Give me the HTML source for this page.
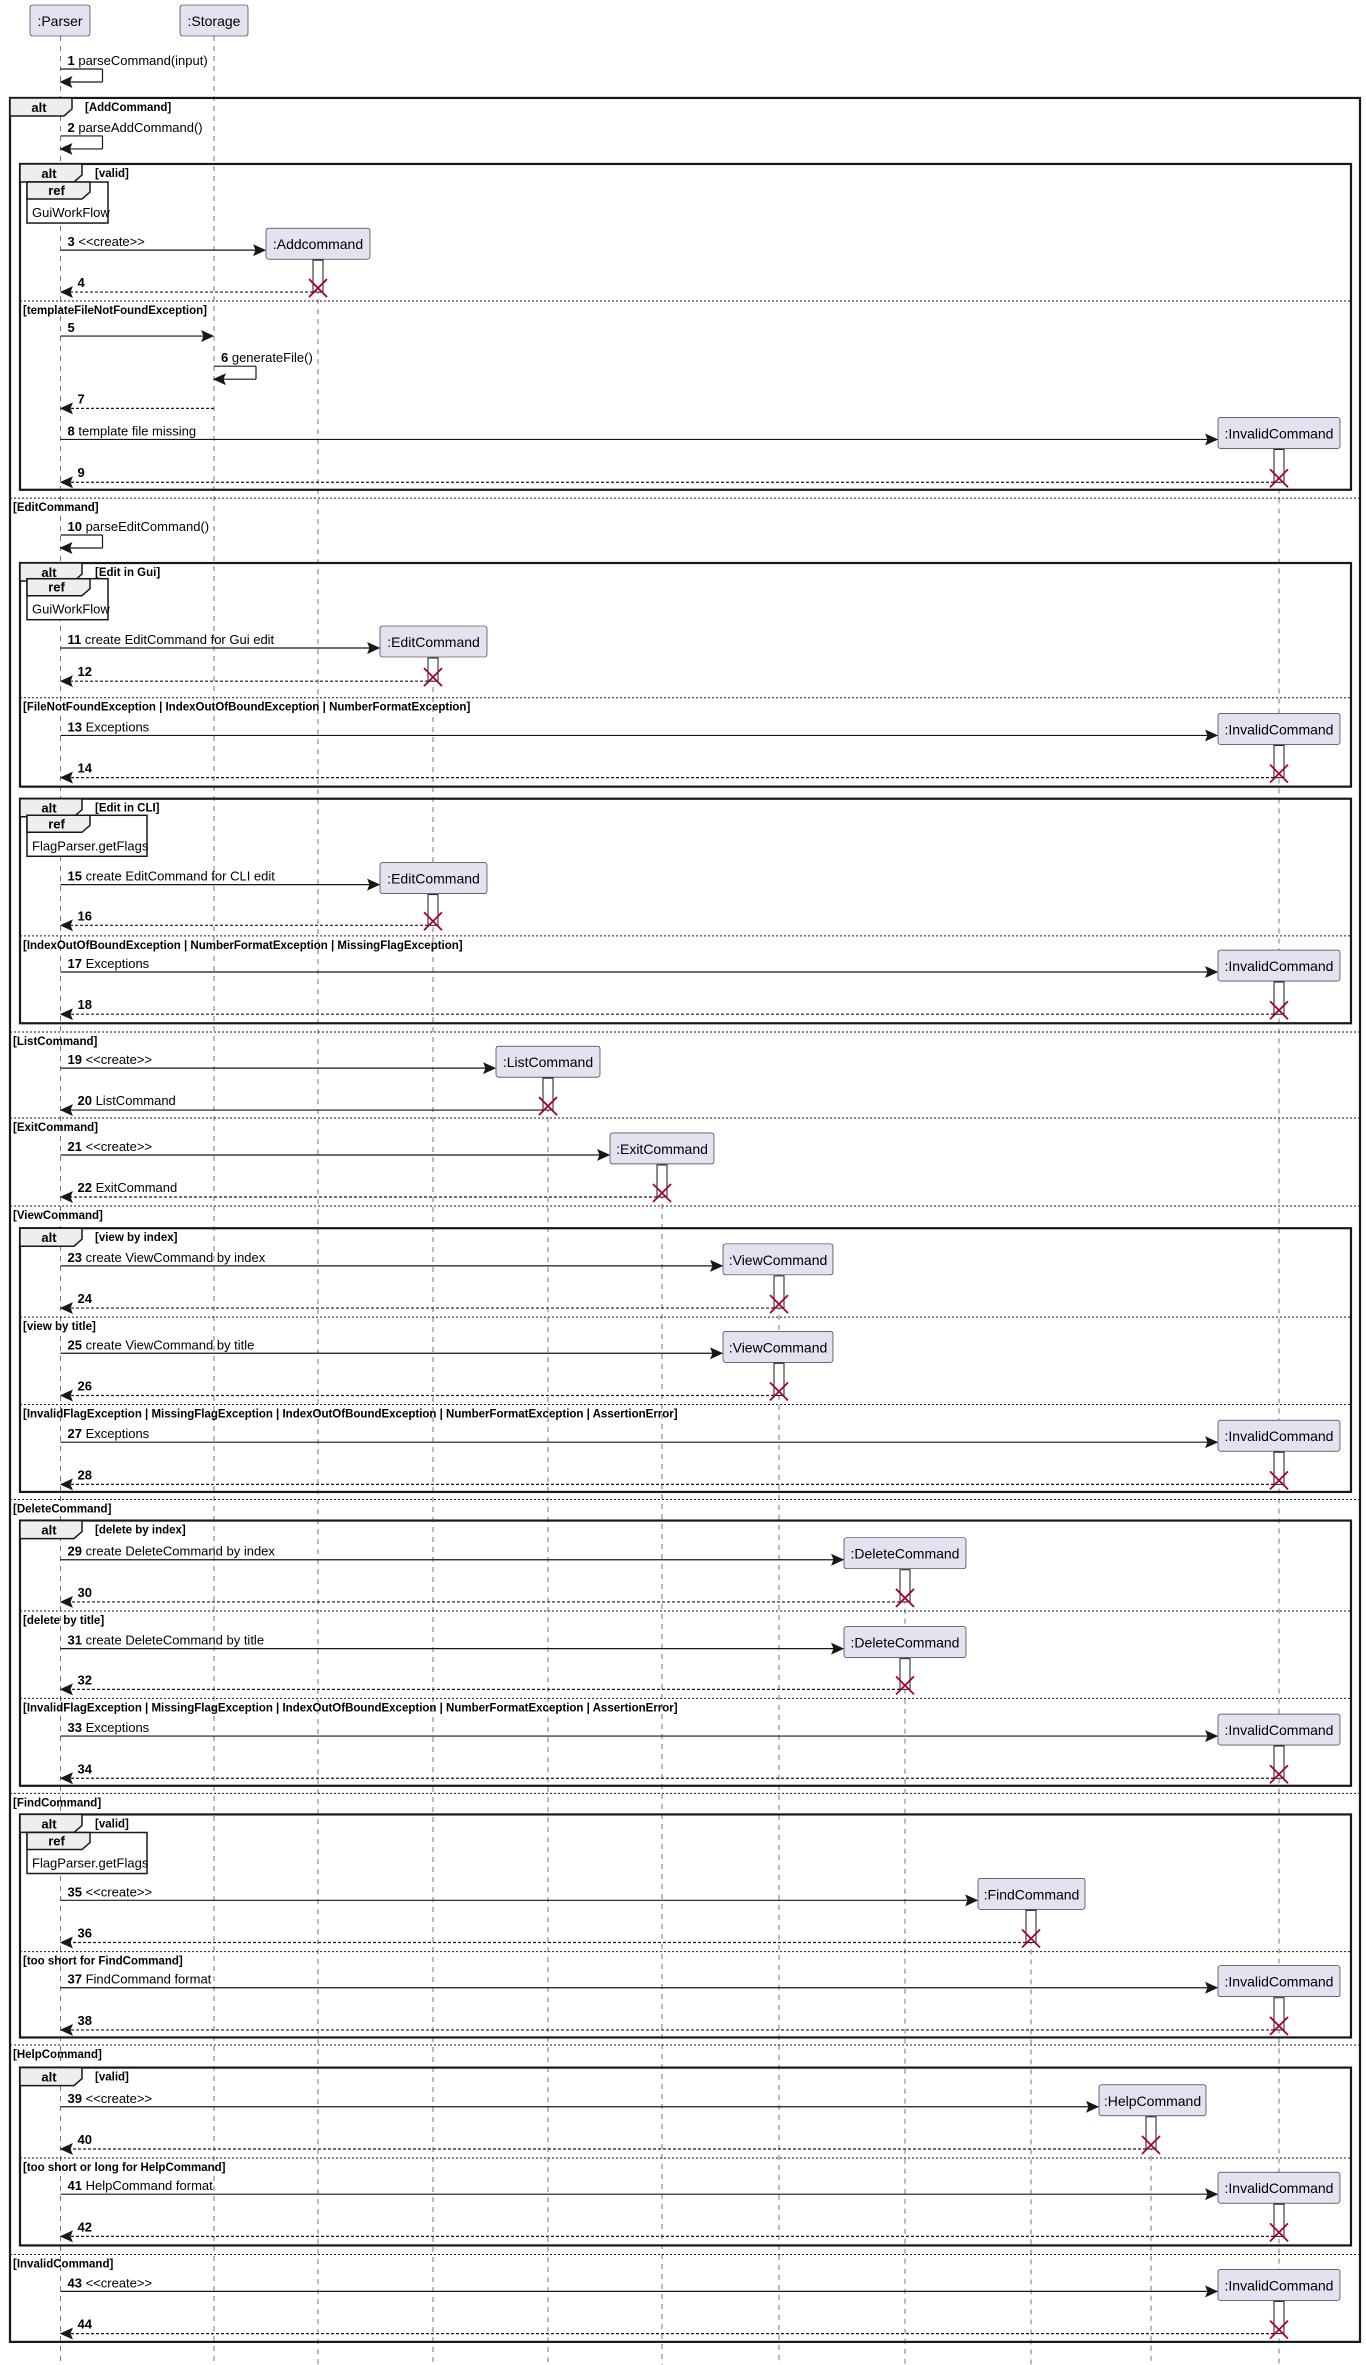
<!DOCTYPE html>
<html><head><meta charset="utf-8"><style>
html,body{margin:0;padding:0;background:#fff;}
svg{display:block;}
text{font-family:"Liberation Sans",sans-serif;fill:#000;}
</style></head><body>
<svg id="d" xmlns="http://www.w3.org/2000/svg" width="1366" height="2365" viewBox="0 0 1366 2365"></svg>
<script>
const K=1.507;let s='';
const X={P:60.5,St:214,Add:318,Ed:433,Li:548,Ex:662,Vi:779,De:905,Fi:1031,He:1151,In:1279};
const B={Add:[266,370,':Addcommand'],Ed:[380,487,':EditCommand'],Li:[496,600,':ListCommand'],Ex:[610,714,':ExitCommand'],Vi:[723,833,':ViewCommand'],De:[844,966,':DeleteCommand'],Fi:[978,1085,':FindCommand'],He:[1099,1206,':HelpCommand'],In:[1218,1340,':InvalidCommand']};
function esc(t){return t.replace(/&/g,'&amp;').replace(/</g,'&lt;').replace(/>/g,'&gt;');}
function line(x1,y1,x2,y2,dash,w,c){s+=`<line x1="${x1}" y1="${y1}" x2="${x2}" y2="${y2}" stroke="${c||'#181818'}" stroke-width="${w||1.2}" ${dash?`stroke-dasharray="${dash}"`:''}/>`;}
function txt(x,y,t,sz,bold,anchor){s+=`<text x="${x}" y="${y}" font-size="${sz}" ${bold?'font-weight="bold"':''} ${anchor?`text-anchor="${anchor}"`:''}>${esc(t)}</text>`;}
function head(x,y,dir){s+=`<polygon points="${x},${y} ${x-11*dir},${y-5} ${x-9*dir},${y} ${x-11*dir},${y+5}" fill="#181818" stroke="#181818" stroke-width="1"/>`;}
function box(x1,x2,y,label){s+=`<rect x="${x1}" y="${y}" width="${x2-x1}" height="31" rx="2.5" fill="#E2E2F0" stroke="#181818" stroke-width="0.6"/>`;txt((x1+x2)/2,y+21,label,14,false,'middle');}
function lbl(x,y,n,t){s+=`<text x="${x}" y="${y}" font-size="13"><tspan font-weight="bold">${n}</tspan>${t?' '+esc(t):''}</text>`;}
function cross(x,y){line(x-9,y-9,x+9,y+9,0,1.8,'#A80036');line(x-9,y+9,x+9,y-9,0,1.8,'#A80036');}
let lifeTop={P:36,St:36};
const creates=[[3,'<<create>>',166,193.8,'Add',''],[8,'template file missing',291.6,320,'In',''],[11,'create EditCommand for Gui edit',430,452,'Ed',''],[13,'Exceptions',488,516,'In',''],[15,'create EditCommand for CLI edit',587,614,'Ed',''],[17,'Exceptions',645,673,'In',''],[19,'<<create>>',708.8,736.6,'Li','ListCommand',1],[21,'<<create>>',766.4,794.3,'Ex','ExitCommand'],[23,'create ViewCommand by index',840,868,'Vi',''],[25,'create ViewCommand by title',898,926,'Vi',''],[27,'Exceptions',957,985,'In',''],[29,'create DeleteCommand by index',1035,1063,'De',''],[31,'create DeleteCommand by title',1094,1121,'De',''],[33,'Exceptions',1152,1180,'In',''],[35,'<<create>>',1261,1289,'Fi',''],[37,'FindCommand format',1319,1347,'In',''],[39,'<<create>>',1398,1426,'He',''],[41,'HelpCommand format',1456,1484,'In',''],[43,'<<create>>',1520.5,1548.5,'In','']];
creates.forEach(c=>{const y=c[2]*K-22+31;if(!(c[4] in lifeTop)||lifeTop[c[4]]>y)lifeTop[c[4]]=y;});
for(const k in lifeTop)line(X[k],lifeTop[k],X[k],2365,'5,5',0.8,'#555');
function tab(x,y,w,h,t){s+=`<polygon points="${x},${y} ${x+w},${y} ${x+w},${y+h-7} ${x+w-8},${y+h} ${x},${y+h}" fill="#EEEEEE" stroke="#181818" stroke-width="1.5"/>`;txt(x+(w-8)/2+2,y+h-4,t,13,true,'middle');}
function frame(x1,x2,top,bot,guard,seps){s+=`<rect x="${x1}" y="${top}" width="${x2-x1}" height="${bot-top}" fill="none" stroke="#181818" stroke-width="2.2"/>`;tab(x1,top,62,18,'alt');txt(x1+75,top+13,'['+guard+']',11.5,true);seps.forEach(p=>{const y=p[0]*K;line(x1,y,x2,y,'2,2',1,'#181818');txt(x1+3,y+13,'['+p[1]+']',11.5,true);});}
const EX='InvalidFlagException | MissingFlagException | IndexOutOfBoundException | NumberFormatException | AssertionError';
frame(10,1360,65*K,1554*K,'AddCommand',[[330.5,'EditCommand'],[684.8,'ListCommand'],[741.9,'ExitCommand'],[800.3,'ViewCommand'],[995,'DeleteCommand'],[1190,'FindCommand'],[1357,'HelpCommand'],[1496,'InvalidCommand']]);
frame(20,1351,108.8*K,325*K,'valid',[[199.7,'templateFileNotFoundException']]);
frame(20,1351,373.6*K,522*K,'Edit in Gui',[[463,'FileNotFoundException | IndexOutOfBoundException | NumberFormatException']]);
frame(20,1351,530*K,679*K,'Edit in CLI',[[621,'IndexOutOfBoundException | NumberFormatException | MissingFlagException']]);
frame(20,1351,815*K,990*K,'view by index',[[874,'view by title'],[932,EX]]);
frame(20,1351,1009*K,1185*K,'delete by index',[[1069,'delete by title'],[1127,EX]]);
frame(20,1351,1204*K,1352*K,'valid',[[1295,'too short for FindCommand']]);
frame(20,1351,1372*K,1490*K,'valid',[[1432,'too short or long for HelpCommand']]);
function ref(yd,w,t){const y=yd*K;s+=`<rect x="27" y="${y}" width="${w}" height="41" fill="#fff" stroke="#181818" stroke-width="1.5"/>`;tab(27,y,63,17,'ref');txt(32,y+35,t,13);}
ref(120.8,81,'GuiWorkFlow');ref(384,81,'GuiWorkFlow');ref(541,120,'FlagParser.getFlags');ref(1216,120,'FlagParser.getFlags');
box(30,90,5,':Parser');box(180,248,5,':Storage');
function self(x,yd,n,t){const y=yd*K;line(x,y,x+42,y);line(x+42,y,x+42,y+13);line(x+42,y+13,x+2,y+13);head(x,y+13,-1);lbl(x+7,y-4,n,t);}
self(60.5,45.8,1,'parseCommand(input)');self(60.5,90.2,2,'parseAddCommand()');self(60.5,355,10,'parseEditCommand()');self(214,243,6,'generateFile()');
let y5=223*K;line(60.5,y5,212,y5);head(213,y5,1);lbl(67.5,y5-4,5,'');
let y7=271*K;line(214,y7,63,y7,'3,2');head(61,y7,-1);lbl(77.5,y7-5,7,'');
creates.forEach(c=>{const [n,t,yd,rd,k,rt,solid]=c;const y=yd*K,r=rd*K,b=B[k],top=y-22;
line(60.5,y,b[0]-2,y);head(b[0]-1,y,1);lbl(67.5,y-4,n,t);box(b[0],b[1],top,b[2]);
s+=`<rect x="${X[k]-5}" y="${top+32}" width="10" height="${r-top-32}" fill="#fff" stroke="#181818" stroke-width="1"/>`;
line(X[k]-5,r,63,r,solid?0:'3,2');head(61,r,-1);lbl(77.5,r-5,n+1,rt);cross(X[k],r-4);});
document.getElementById('d').innerHTML=s;
</script>
</body></html>
